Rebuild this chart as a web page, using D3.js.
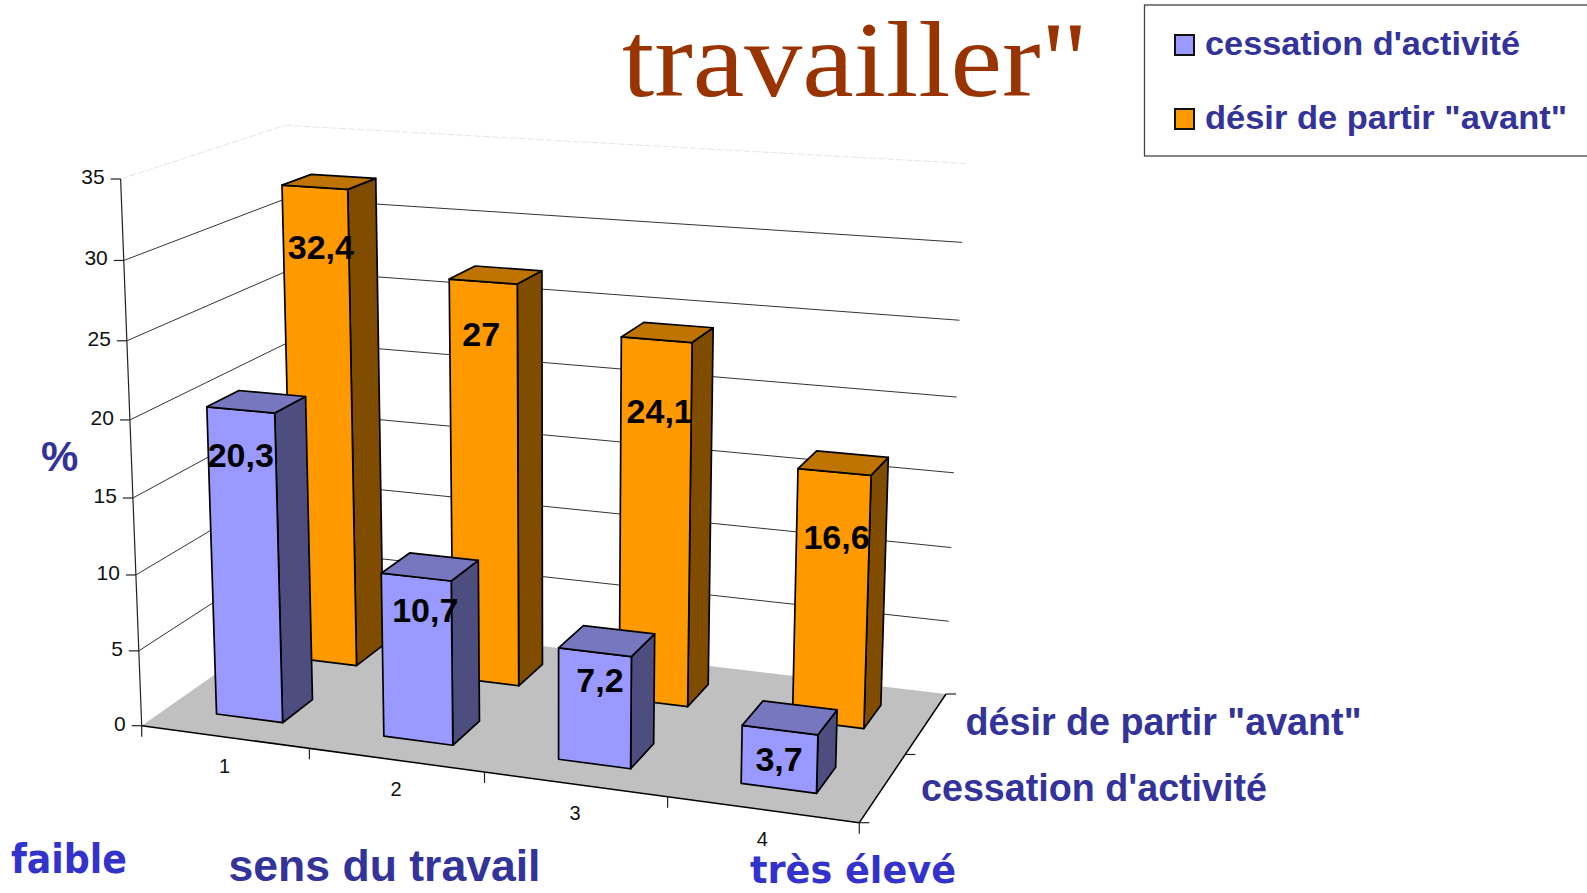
<!DOCTYPE html>
<html>
<head>
<meta charset="utf-8">
<script src="https://cdn.jsdelivr.net/npm/d3@7"></script>
<style>
  html, body { margin: 0; background: #fff; }
  svg { display: block; }
</style>
</head>
<body>
<script>
var width = 1587,
    height = 893;

// chart values
var categories = ["1", "2", "3", "4"];
var seriesNames = ["cessation d'activité", "désir de partir \"avant\""];
var cessation = [20.3, 10.7, 7.2, 3.7];
var desir = [32.4, 27, 24.1, 16.6];
var cessationLabels = ["20,3", "10,7", "7,2", "3,7"];
var desirLabels = ["32,4", "27", "24,1", "16,6"];
var yTicks = [0, 5, 10, 15, 20, 25, 30, 35];

// label nudges, px from the top of each front face
var cessationNudge = [[0, 60], [9, 49], [5, 44], [-1, 46]];
var desirNudge = [[6, 74], [-2, 67], [3, 86], [2, 80]];

var blue = {front: "#9999ff", top: "#7777bf", side: "#4d4d80"};
var orange = {front: "#ff9900", top: "#bf7300", side: "#804d00"};
var navy = "#333399";
var handBlue = "#3333cc";

// the box of the 3d chart as it lands on screen
var floorFrontLeft = [141.7, 725.7],
    floorFrontRight = [859.3, 822.7],
    floorBackRight = [946, 694],
    floorBackLeft = [297, 617],
    topFrontLeft = [120.7, 179],
    verticalVanish = [557, 11500];

// unit square -> floor quad
var proj = (function() {
  var p0 = floorFrontLeft, p1 = floorFrontRight, p2 = floorBackRight, p3 = floorBackLeft;
  var dx1 = p1[0] - p2[0], dx2 = p3[0] - p2[0], sx = p0[0] - p1[0] + p2[0] - p3[0];
  var dy1 = p1[1] - p2[1], dy2 = p3[1] - p2[1], sy = p0[1] - p1[1] + p2[1] - p3[1];
  var den = dx1 * dy2 - dx2 * dy1;
  var g = (sx * dy2 - dx2 * sy) / den,
      h = (dx1 * sy - sx * dy1) / den;
  return {
    a: p1[0] - p0[0] + g * p1[0], b: p3[0] - p0[0] + h * p3[0], c: p0[0],
    d: p1[1] - p0[1] + g * p1[1], e: p3[1] - p0[1] + h * p3[1], f: p0[1],
    g: g, h: h,
    k: (topFrontLeft[1] - p0[1]) / (verticalVanish[1] - topFrontLeft[1])
  };
})();

// u along the categories, w into the depth, v up, all 0..1
function project(u, w, v) {
  var q = proj.g * u + proj.h * w + 1 + proj.k * v;
  return [
    (proj.a * u + proj.b * w + proj.c + proj.k * verticalVanish[0] * v) / q,
    (proj.d * u + proj.e * w + proj.f + proj.k * verticalVanish[1] * v) / q
  ];
}

var x = d3.scaleBand().domain(categories).range([0, 1]).paddingInner(0.6).paddingOuter(0.3);
var depth = d3.scaleBand().domain(seriesNames).range([0, 1]).paddingInner(0.61).paddingOuter(0.305);
var y = d3.scaleLinear().domain([0, 35]).range([0, 1]);

var svg = d3.select("body").append("svg")
    .attr("width", width)
    .attr("height", height);

var poly = function(pts) { return pts.map(function(p) { return p.join(","); }).join(" "); };
var segment = function(g, a, b) {
  return g.append("line")
      .attr("x1", a[0]).attr("y1", a[1])
      .attr("x2", b[0]).attr("y2", b[1]);
};

// walls: gridlines first
var grid = svg.append("g").attr("stroke", "#333").attr("stroke-width", 1);
yTicks.slice(1, -1).forEach(function(t) {
  var v = y(t);
  segment(grid, project(0, 0, v), project(0, 1, v));
  segment(grid, project(0, 1, v), project(1, 1, v));
});

// very faint top edges of the walls
var faint = svg.append("g").attr("stroke", "#e6e6e6").attr("stroke-width", 1).attr("stroke-dasharray", "7 2");
segment(faint, project(0, 0, 1), project(0, 1, 1));
segment(faint, project(0, 1, 1), project(1, 1, 1));

// floor
svg.append("polygon")
    .attr("points", poly([project(0, 0, 0), project(1, 0, 0), project(1, 1, 0), project(0, 1, 0)]))
    .attr("fill", "#c0c0c0");

// axis lines and ticks
var axes = svg.append("g").attr("stroke", "#222").attr("stroke-width", 1.2);
segment(axes, project(0, 0, 0), project(0, 0, 1));
segment(axes, project(0, 0, 0), project(1, 0, 0)).attr("stroke", "#000").attr("stroke-width", 1.5);
segment(axes, project(1, 0, 0), project(1, 1, 0)).attr("stroke", "#000").attr("stroke-width", 1.5);

yTicks.forEach(function(t) {
  var p = project(0, 0, y(t));
  segment(axes, [p[0] - 10, p[1]], p);
  svg.append("text")
      .attr("x", p[0] - 16)
      .attr("y", p[1] + 5)
      .attr("text-anchor", "end")
      .style("font", "21px 'Liberation Sans'")
      .attr("fill", "#111")
      .text(t);
});

// ticks under the front edge, between categories
d3.range(categories.length + 1).forEach(function(i) {
  var p = project(i / categories.length, 0, 0);
  segment(axes, p, [p[0], p[1] + 11]);
});

// ticks on the right edge, between series
d3.range(seriesNames.length + 1).forEach(function(i) {
  var p = project(1, i / seriesNames.length, 0);
  segment(axes, p, [p[0] + 10, p[1]]);
});

categories.forEach(function(c) {
  var p = project(x(c) + x.bandwidth() / 2, 0, 0);
  svg.append("text")
      .attr("x", p[0])
      .attr("y", p[1] + 36)
      .attr("text-anchor", "middle")
      .style("font", "20px 'Liberation Sans'")
      .attr("fill", "#111")
      .text(c);
});

function drawBars(name, values, colors) {
  var g = svg.append("g").attr("stroke", "#000").attr("stroke-width", 1.7).attr("stroke-linejoin", "round");
  values.forEach(function(val, i) {
    var u0 = x(categories[i]), u1 = u0 + x.bandwidth(),
        w0 = depth(name), w1 = w0 + depth.bandwidth(),
        v = y(val);
    g.append("polygon").attr("fill", colors.side)
        .attr("points", poly([project(u1, w0, 0), project(u1, w1, 0), project(u1, w1, v), project(u1, w0, v)]));
    g.append("polygon").attr("fill", colors.front)
        .attr("points", poly([project(u0, w0, 0), project(u1, w0, 0), project(u1, w0, v), project(u0, w0, v)]));
    g.append("polygon").attr("fill", colors.top)
        .attr("points", poly([project(u0, w0, v), project(u1, w0, v), project(u1, w1, v), project(u0, w1, v)]));
  });
}

function drawLabels(name, values, labels, nudge) {
  values.forEach(function(val, i) {
    var u0 = x(categories[i]), u1 = u0 + x.bandwidth(),
        w0 = depth(name), v = y(val);
    var left = project(u0, w0, v), right = project(u1, w0, v);
    svg.append("text")
        .attr("x", (left[0] + right[0]) / 2 + nudge[i][0])
        .attr("y", left[1] + nudge[i][1])
        .attr("text-anchor", "middle")
        .style("font", "bold 34px 'Liberation Sans'")
        .attr("fill", "#000")
        .text(labels[i]);
  });
}

// back row first so the front row covers it
drawBars(seriesNames[1], desir, orange);
drawBars(seriesNames[0], cessation, blue);
drawLabels(seriesNames[1], desir, desirLabels, desirNudge);
drawLabels(seriesNames[0], cessation, cessationLabels, cessationNudge);

// title, cut off by the slide crop
svg.append("text")
    .attr("x", 622)
    .attr("y", 96)
    .style("font", "108px 'Liberation Serif'")
    .attr("fill", "#993300")
    .attr("textLength", 466)
    .attr("lengthAdjust", "spacingAndGlyphs")
    .text("travailler\"");

// legend, runs off the right side
svg.append("rect")
    .attr("x", 1144.5)
    .attr("y", 5)
    .attr("width", 460)
    .attr("height", 151)
    .attr("fill", "#fff")
    .attr("stroke", "#444")
    .attr("stroke-width", 1.3);

var legendColors = [blue.front, orange.front];
var legendY = [55, 129];
var legendLen = [315, 362];
seriesNames.forEach(function(name, i) {
  svg.append("rect")
      .attr("x", 1175)
      .attr("y", legendY[i] - 20)
      .attr("width", 19)
      .attr("height", 20)
      .attr("fill", legendColors[i])
      .attr("stroke", "#111")
      .attr("stroke-width", 2);
  svg.append("text")
      .attr("x", 1205)
      .attr("y", legendY[i])
      .style("font", "bold 33px 'Liberation Sans'")
      .attr("fill", navy)
      .attr("textLength", legendLen[i])
      .attr("lengthAdjust", "spacingAndGlyphs")
      .text(name);
});

// series names beside the depth axis
var depthLabelX = [921, 965.5];
var depthLabelY = [801, 735];
var depthLabelLen = [346, 396];
seriesNames.forEach(function(name, i) {
  svg.append("text")
      .attr("x", depthLabelX[i])
      .attr("y", depthLabelY[i])
      .style("font", "bold 38px 'Liberation Sans'")
      .attr("fill", navy)
      .attr("textLength", depthLabelLen[i])
      .attr("lengthAdjust", "spacingAndGlyphs")
      .text(name);
});

svg.append("text")
    .attr("x", 41)
    .attr("y", 471)
    .style("font", "bold 42px 'Liberation Sans'")
    .attr("fill", navy)
    .text("%");

svg.append("text")
    .attr("x", 228.5)
    .attr("y", 881)
    .style("font", "bold 44px 'Liberation Sans'")
    .attr("fill", navy)
    .attr("textLength", 312)
    .attr("lengthAdjust", "spacingAndGlyphs")
    .text("sens du travail");

svg.append("text")
    .attr("x", 11)
    .attr("y", 873)
    .style("font", "bold 40px 'Comic Sans MS', 'DejaVu Sans'")
    .attr("fill", handBlue)
    .attr("textLength", 116)
    .attr("lengthAdjust", "spacingAndGlyphs")
    .text("faible");

svg.append("text")
    .attr("x", 750)
    .attr("y", 883)
    .style("font", "bold 38px 'Comic Sans MS', 'DejaVu Sans'")
    .attr("fill", handBlue)
    .attr("textLength", 206)
    .attr("lengthAdjust", "spacingAndGlyphs")
    .text("très élevé");
</script>
</body>
</html>
